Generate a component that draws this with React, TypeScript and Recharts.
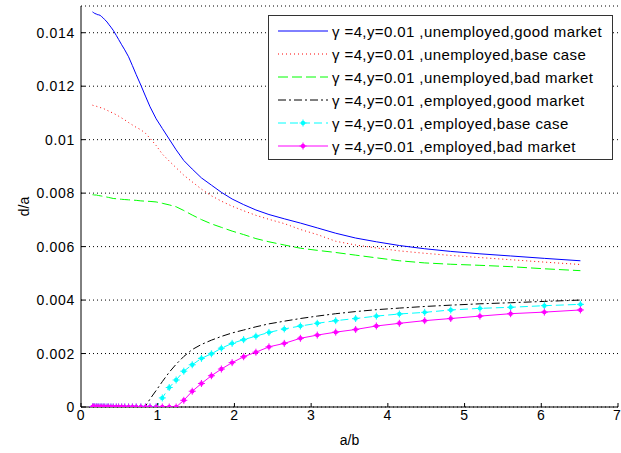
import { LineChart, Line, XAxis, YAxis, CartesianGrid, Legend } from "recharts";

const ratioAB = [
  0.15, 0.16, 0.17, 0.18, 0.2, 0.21, 0.23, 0.25, 0.27, 0.29,
  0.31, 0.34, 0.36, 0.39, 0.42, 0.46, 0.49, 0.53, 0.57, 0.62,
  0.67, 0.72, 0.78, 0.84, 0.9, 0.98, 1.06, 1.15, 1.24, 1.34,
  1.45, 1.57, 1.7, 1.83, 1.97, 2.12, 2.28, 2.45, 2.65, 2.86,
  3.08, 3.32, 3.58, 3.85, 4.15, 4.48, 4.82, 5.2, 5.6, 6.04, 6.51,
];

const unempGood = [
  0.01478, 0.01476, 0.01474, 0.01472, 0.0147, 0.01468, 0.01467, 0.01465, 0.0146, 0.01455,
  0.01449, 0.0144, 0.01432, 0.01421, 0.01409, 0.0139, 0.01375, 0.01355, 0.01336, 0.0131,
  0.01277, 0.01243, 0.01204, 0.01163, 0.01123, 0.01078, 0.01042, 0.01002, 0.00962, 0.00922,
  0.0089, 0.00857, 0.0083, 0.00803, 0.00778, 0.00757, 0.00737, 0.0072, 0.00704, 0.00688,
  0.0067, 0.0065, 0.00632, 0.00618, 0.00604, 0.00592, 0.00582, 0.00573, 0.00565, 0.00556, 0.00547,
];

const unempBase = [
  0.01129, 0.01128, 0.01127, 0.01126, 0.01125, 0.01124, 0.01122, 0.0112, 0.01119, 0.01117,
  0.01114, 0.0111, 0.01107, 0.01103, 0.01099, 0.01093, 0.01088, 0.01081, 0.01074, 0.01064,
  0.01055, 0.01046, 0.01037, 0.01024, 0.01005, 0.00978, 0.00946, 0.0092, 0.00895, 0.00867,
  0.00842, 0.00815, 0.0079, 0.0077, 0.00751, 0.00734, 0.00717, 0.00702, 0.00686, 0.00664,
  0.00645, 0.0062, 0.00606, 0.00595, 0.00584, 0.00575, 0.00567, 0.00559, 0.00551, 0.00542, 0.00533,
];

const unempBad = [
  0.00794, 0.00794, 0.00793, 0.00793, 0.00793, 0.00792, 0.00791, 0.0079, 0.00789, 0.00788,
  0.00787, 0.00785, 0.00784, 0.00782, 0.0078, 0.00779, 0.00778, 0.00777, 0.00776, 0.00775,
  0.00774, 0.00773, 0.00771, 0.0077, 0.00769, 0.00767, 0.00762, 0.00756, 0.00749, 0.00735,
  0.00718, 0.00701, 0.00685, 0.00672, 0.00658, 0.00645, 0.0063, 0.00618, 0.00606, 0.00594,
  0.00586, 0.00578, 0.00568, 0.00558, 0.00547, 0.00539, 0.00534, 0.0053, 0.00525, 0.00517, 0.0051,
];

const empGood = [
  0, 0, 0, 0, 0, 0, 0, 0, 0, 0,
  0, 0, 0, 0, 0, 0, 0, 0, 0, 0,
  0, 0, 0, 0.00003, 0.0003, 0.00062, 0.00095, 0.0013, 0.0016, 0.00189,
  0.00215, 0.00234, 0.0025, 0.00264, 0.00277, 0.00288, 0.003, 0.00311, 0.00321, 0.00331,
  0.0034, 0.00349, 0.00357, 0.00364, 0.0037, 0.00376, 0.00381, 0.00386, 0.0039, 0.00395, 0.004,
];

const empBase = [
  0, 0, 0, 0, 0, 0, 0, 0, 0, 0,
  0, 0, 0, 0, 0, 0, 0, 0, 0, 0,
  0, 0, 0, 0, 0, 0, 0.00034, 0.00073, 0.00101, 0.00134,
  0.00158, 0.00182, 0.00199, 0.0022, 0.00238, 0.00252, 0.00265, 0.00279, 0.00292, 0.00303,
  0.00313, 0.00323, 0.00331, 0.0034, 0.00348, 0.00354, 0.00363, 0.00369, 0.00373, 0.00379, 0.00384,
];

const empBad = [
  0, 0, 0, 0, 0, 0, 0, 0, 0, 0,
  0, 0, 0, 0, 0, 0, 0, 0, 0, 0,
  0, 0, 0, 0, 0, 0, 0, 0, 0, 0.00025,
  0.00059, 0.00088, 0.00117, 0.00142, 0.00166, 0.00188, 0.00205, 0.00225, 0.00238, 0.00257,
  0.00269, 0.0028, 0.0029, 0.00303, 0.00313, 0.00323, 0.00331, 0.0034, 0.00349, 0.00355, 0.00363,
];

const xTicks = [0, 1, 2, 3, 4, 5, 6, 7];
const yTicks = [0, 0.002, 0.004, 0.006, 0.008, 0.01, 0.012, 0.014];

const seriesList = [
  { key: "unempGood", name: "γ =4,y=0.01 ,unemployed,good market", color: "#0000ff", dash: undefined, marker: false },
  { key: "unempBase", name: "γ =4,y=0.01 ,unemployed,base case", color: "#ff0000", dash: "1 3", marker: false },
  { key: "unempBad", name: "γ =4,y=0.01 ,unemployed,bad market", color: "#00ff00", dash: "10 4", marker: false },
  { key: "empGood", name: "γ =4,y=0.01 ,employed,good market", color: "#000000", dash: "8 3 2 3", marker: false },
  { key: "empBase", name: "γ =4,y=0.01 ,employed,base case", color: "#00ffff", dash: "8 4", marker: true },
  { key: "empBad", name: "γ =4,y=0.01 ,employed,bad market", color: "#ff00ff", dash: undefined, marker: true },
];

const chartData = ratioAB.map((x, i) => ({
  x,
  unempGood: unempGood[i],
  unempBase: unempBase[i],
  unempBad: unempBad[i],
  empGood: empGood[i],
  empBase: empBase[i],
  empBad: empBad[i],
}));

const FONT = "'Liberation Sans', Arial, sans-serif";
const tickStyle = { fill: "#000", fontSize: 14, fontFamily: FONT, letterSpacing: 0.7 };

const formatY = (v: number) => String(+v.toFixed(3));

const Marker = ({ cx, cy, color }: any) => {
  if (cx == null || cy == null) return null;
  return (
    <g>
      <circle cx={cx} cy={cy} r={2.2} fill={color} />
      <line x1={cx - 3.5} x2={cx + 3.5} y1={cy} y2={cy} stroke={color} strokeWidth={1} />
      <line x1={cx} x2={cx} y1={cy - 3.5} y2={cy + 3.5} stroke={color} strokeWidth={1} />
    </g>
  );
};

const LegendBox = () => (
  <div
    style={{
      background: "#fff",
      border: "1px solid #333",
      width: 343,
      height: 143,
      fontFamily: FONT,
      fontSize: 15,
      letterSpacing: 0.4,
      color: "#000",
      boxSizing: "content-box",
    }}
  >
    {seriesList.map((s, i) => (
      <div key={s.key} style={{ position: "absolute", left: 10, top: 6 + i * 23, height: 20, display: "flex", alignItems: "center" }}>
        <svg width={52} height={20}>
          <line x1={0} x2={50} y1={10} y2={10} stroke={s.color} strokeWidth={1} strokeDasharray={s.dash} />
          {s.marker && <Marker cx={25} cy={10} color={s.color} />}
        </svg>
        <span style={{ marginLeft: 2, whiteSpace: "nowrap" }}>{s.name}</span>
      </div>
    ))}
  </div>
);

export default function App() {
  return (
    <div style={{ position: "absolute", left: 0, top: 0, background: "#fff" }}>
      <LineChart
        width={621}
        height={453}
        data={chartData}
        margin={{ top: 6, right: 3, left: 0, bottom: 6 }}
        style={{ fontFamily: FONT }}
      >
        <CartesianGrid horizontal vertical={false} stroke="#000" strokeDasharray="1 3" />
        <XAxis
          dataKey="x"
          type="number"
          domain={[0, 7]}
          ticks={xTicks}
          allowDataOverflow
          height={40}
          stroke="#000"
          tickSize={-4}
          tickMargin={7}
          tick={tickStyle}
          label={{ value: "a/b", position: "insideBottom", offset: 2, fill: "#000", fontSize: 14, fontFamily: FONT }}
        />
        <YAxis
          type="number"
          domain={[0, 0.015]}
          ticks={yTicks}
          allowDataOverflow
          width={81}
          stroke="#000"
          tickSize={-4}
          tickMargin={10}
          tickFormatter={formatY}
          tick={tickStyle}
          label={{ value: "d/a", angle: -90, position: "insideLeft", offset: 24, fill: "#000", fontSize: 14, fontFamily: FONT, style: { textAnchor: "middle" } }}
        />
        <Legend
          layout="horizontal"
          verticalAlign="middle"
          align="center"
          wrapperStyle={{ left: 268, top: 15, width: 345, height: 145 }}
          content={() => <LegendBox />}
        />
        {seriesList.map((s) => (
          <Line
            key={s.key}
            type="linear"
            dataKey={s.key}
            name={s.name}
            stroke={s.color}
            strokeWidth={1}
            strokeDasharray={s.dash}
            dot={s.marker ? (p: any) => <Marker key={p.index} cx={p.cx} cy={p.cy} color={s.color} /> : false}
            activeDot={false}
            isAnimationActive={false}
          />
        ))}
      </LineChart>
    </div>
  );
}
